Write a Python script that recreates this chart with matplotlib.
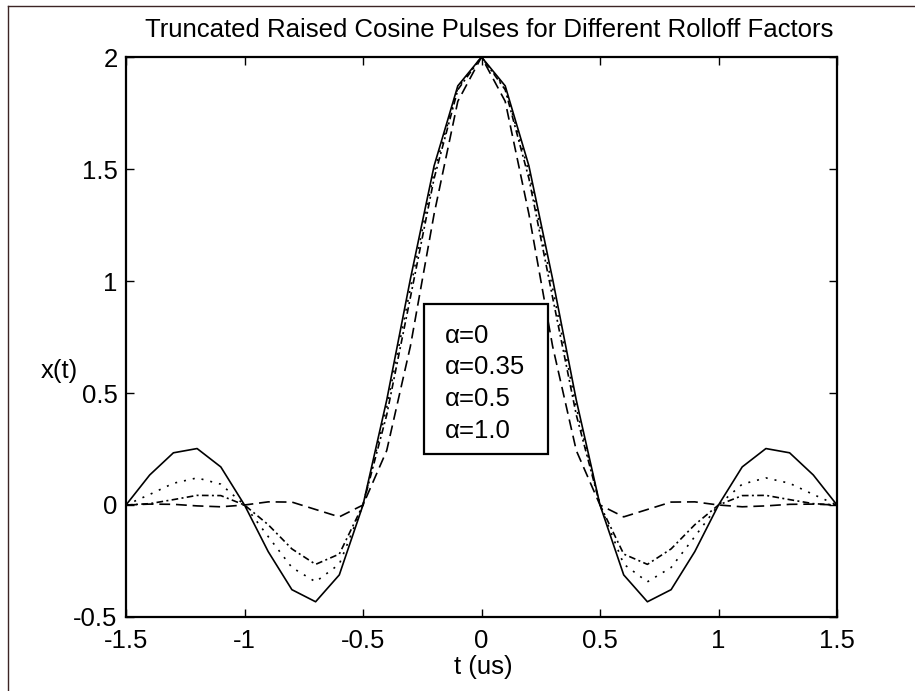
import matplotlib
matplotlib.use("Agg")
import matplotlib.pyplot as plt
from matplotlib.lines import Line2D
from matplotlib.patches import Rectangle

# ---- data ----
t_us = [-1.5, -1.4, -1.3, -1.2, -1.1, -1.0, -0.9, -0.8, -0.7, -0.6, -0.5,
        -0.4, -0.3, -0.2, -0.1, 0.0, 0.1, 0.2, 0.3, 0.4, 0.5,
        0.6, 0.7, 0.8, 0.9, 1.0, 1.1, 1.2, 1.3, 1.4, 1.5]

x_a0 = [0.0, 0.134, 0.233, 0.252, 0.170, 0.0, -0.208, -0.378, -0.432, -0.312, 0.0,
        0.468, 1.009, 1.514, 1.871, 2.0, 1.871, 1.514, 1.009, 0.468, 0.0,
        -0.312, -0.432, -0.378, -0.208, 0.0, 0.170, 0.252, 0.233, 0.134, 0.0]
x_a035 = [0.0, 0.047, 0.097, 0.121, 0.093, 0.0, -0.141, -0.279, -0.343, -0.264, 0.0,
          0.435, 0.968, 1.486, 1.862, 2.0, 1.862, 1.486, 0.968, 0.435, 0.0,
          -0.264, -0.343, -0.279, -0.141, 0.0, 0.093, 0.121, 0.097, 0.047, 0.0]
x_a05 = [0.0, 0.006, 0.024, 0.043, 0.042, 0.0, -0.088, -0.196, -0.265, -0.219, 0.0,
         0.402, 0.927, 1.458, 1.854, 2.0, 1.854, 1.458, 0.927, 0.402, 0.0,
         -0.219, -0.265, -0.196, -0.088, 0.0, 0.042, 0.043, 0.024, 0.006, 0.0]
x_a1 = [0.0, 0.004, 0.003, -0.004, -0.008, 0.0, 0.014, 0.013, -0.020, -0.053, 0.0,
        0.243, 0.709, 1.299, 1.802, 2.0, 1.802, 1.299, 0.709, 0.243, 0.0,
        -0.053, -0.020, 0.013, 0.014, 0.0, -0.008, -0.004, 0.003, 0.004, 0.0]

series_labels = ["\u03b1=0", "\u03b1=0.35", "\u03b1=0.5", "\u03b1=1.0"]
xtick_vals = [-1.5, -1.0, -0.5, 0.0, 0.5, 1.0, 1.5]
xtick_labels = ["-1.5", "-1", "-0.5", "0", "0.5", "1", "1.5"]
ytick_vals = [-0.5, 0.0, 0.5, 1.0, 1.5, 2.0]
ytick_labels = ["-0.5", "0", "0.5", "1", "1.5", "2"]

title = "Truncated Raised Cosine Pulses for Different Rolloff Factors"
xlabel = "t (us)"
ylabel = "x(t)"

# ---- style ----
plt.rcParams['font.family'] = ['Liberation Sans', 'DejaVu Sans']
FS = 18.5

W, H = 915, 691
fig = plt.figure(figsize=(W / 100, H / 100), dpi=100)
fig.patch.set_facecolor("white")

# axes: x 126..837, y 57..617 (pixels)
axl, axr, axt, axb = 126, 837, 57, 617
ax = fig.add_axes([axl / W, 1 - axb / H, (axr - axl) / W, (axb - axt) / H])

styles = ['-', (0, (1.2, 4.2)), (0, (4, 2, 1.2, 2)), (0, (6.5, 3.5))]
for ys, ls in zip([x_a0, x_a035, x_a05, x_a1], styles):
    ax.plot(t_us, ys, color='black', linestyle=ls, linewidth=1.2)

ax.set_xlim(-1.5, 1.5)
ax.set_ylim(-0.5, 2.0)
ax.set_xticks(xtick_vals)
ax.set_xticklabels(xtick_labels)
ax.set_yticks(ytick_vals)
ax.set_yticklabels(ytick_labels)
ax.tick_params(direction='in', length=5.5, width=1.0, labelsize=FS,
               top=True, right=True, colors='black')
ax.tick_params(axis='x', pad=9)
ax.tick_params(axis='y', pad=6)
for sp in ax.spines.values():
    sp.set_linewidth(1.6)
    sp.set_color('black')

# legend box (text only)
bx0 = (424 - axl) / (axr - axl)
bx1 = (548 - axl) / (axr - axl)
by0 = (axb - 454) / (axb - axt)
by1 = (axb - 304) / (axb - axt)
ax.add_patch(Rectangle((bx0, by0), bx1 - bx0, by1 - by0, transform=ax.transAxes,
                       facecolor='white', edgecolor='black', linewidth=1.6, zorder=5))
tx = (445 - axl) / (axr - axl)
baselines = [343, 374, 406, 438]
for lab, b in zip(series_labels, baselines):
    ax.text(tx, (axb - b) / (axb - axt), lab, transform=ax.transAxes,
            fontsize=FS, ha='left', va='baseline', zorder=6)

# title & labels
fig.text(489 / W, 1 - 37 / H, title, fontsize=FS, ha='center', va='baseline')
fig.text(483.5 / W, 1 - 674 / H, xlabel, fontsize=FS, ha='center', va='baseline')
fig.text(41 / W, 1 - 378 / H, ylabel, fontsize=FS, ha='left', va='baseline')

# outer figure frame (offset)
fcol = '#3c2424'
fig.add_artist(Line2D([8 / W, 1.0], [1 - 6 / H, 1 - 6 / H], transform=fig.transFigure,
                      color=fcol, linewidth=1.0))
fig.add_artist(Line2D([8 / W, 8 / W], [0.0, 1 - 6 / H], transform=fig.transFigure,
                      color=fcol, linewidth=1.0))

fig.savefig("out.png", dpi=100, facecolor='white')
